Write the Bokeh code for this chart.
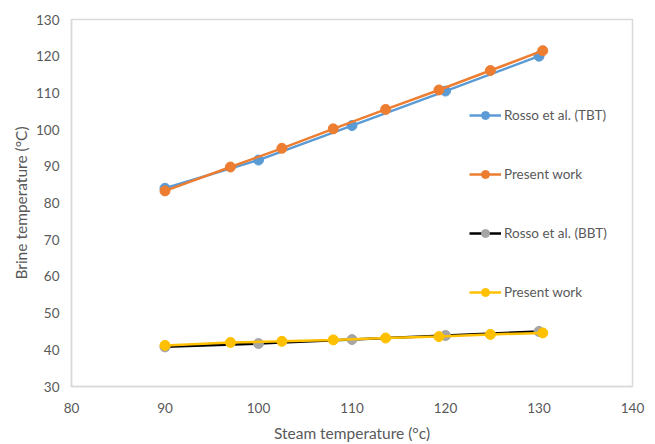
from bokeh.plotting import figure
from bokeh.models import Legend, LegendItem, FixedTicker, Range1d
from bokeh.embed import file_html
from bokeh.resources import INLINE

# ---- data ----
x_rosso = [90, 100, 110, 120, 130]
y_tbt_rosso = [84.0, 91.7, 101.1, 110.5, 120.0]
y_bbt_rosso = [40.8, 41.7, 42.8, 43.9, 45.0]

x_present = [90, 97, 102.5, 108, 113.6, 119.3, 124.8, 130.4]
y_tbt_present = [83.3, 89.8, 94.9, 100.2, 105.5, 110.8, 116.1, 121.5]
y_bbt_present = [41.2, 42.0, 42.3, 42.7, 43.2, 43.6, 44.2, 44.6]

x_ticks = [80, 90, 100, 110, 120, 130, 140]
y_ticks = [30, 40, 50, 60, 70, 80, 90, 100, 110, 120, 130]

labels = ["Rosso et al. (TBT)", "Present work", "Rosso et al. (BBT)", "Present work"]

FONT = "Lato"
TXT = "#595959"

p = figure(frame_width=561, frame_height=367, output_backend="svg", toolbar_location=None,
           x_range=Range1d(80, 140), y_range=Range1d(30, 130),
           min_border_left=71, min_border_right=18, min_border_top=19, min_border_bottom=54)
p.grid.visible = False
p.outline_line_color = "#d9d9d9"
p.outline_line_width = 1.5

for ax in (p.xaxis[0], p.yaxis[0]):
    ax.axis_line_color = "#d9d9d9"
    ax.axis_line_width = 1.5
    ax.major_tick_line_color = None
    ax.minor_tick_line_color = None
    ax.major_tick_out = 0
    ax.major_label_text_font = FONT
    ax.major_label_text_color = TXT
    ax.major_label_text_font_size = "13.5px"
    ax.axis_label_text_font = FONT
    ax.axis_label_text_color = TXT
    ax.axis_label_text_font_size = "15.5px"
    ax.axis_label_text_font_style = "normal"

p.xaxis.ticker = FixedTicker(ticks=x_ticks)
p.yaxis.ticker = FixedTicker(ticks=y_ticks)
p.xaxis.major_label_standoff = 16
p.yaxis.major_label_standoff = 12
p.xaxis.axis_label = "Steam temperature (°c)"
p.yaxis.axis_label = "Brine temperature (°C)"
p.xaxis.axis_label_standoff = 8
p.yaxis.axis_label_standoff = 3

series = [
    (x_rosso, y_tbt_rosso, "#5B9BD5", "#5B9BD5"),
    (x_present, y_tbt_present, "#ED7D31", "#ED7D31"),
    (x_rosso, y_bbt_rosso, "#000000", "#A5A5A5"),
    (x_present, y_bbt_present, "#FFC000", "#FFC000"),
]

items = []
for (xs, ys, lc, mc), lab in zip(series, labels):
    l = p.line(xs, ys, line_color=lc, line_width=2.5)
    s = p.scatter(xs, ys, size=10, fill_color=mc, line_color=mc)
    items.append(LegendItem(label=lab, renderers=[l, s]))

legend = Legend(items=items, location=(398, 84), orientation="vertical",
                glyph_width=32, glyph_height=20, label_height=20, spacing=39,
                label_standoff=3, padding=0, margin=0,
                border_line_color=None, background_fill_alpha=0,
                label_text_font=FONT, label_text_color=TXT,
                label_text_font_size="13.5px")
p.add_layout(legend)

open("out.html", "w").write(file_html(p, INLINE))
